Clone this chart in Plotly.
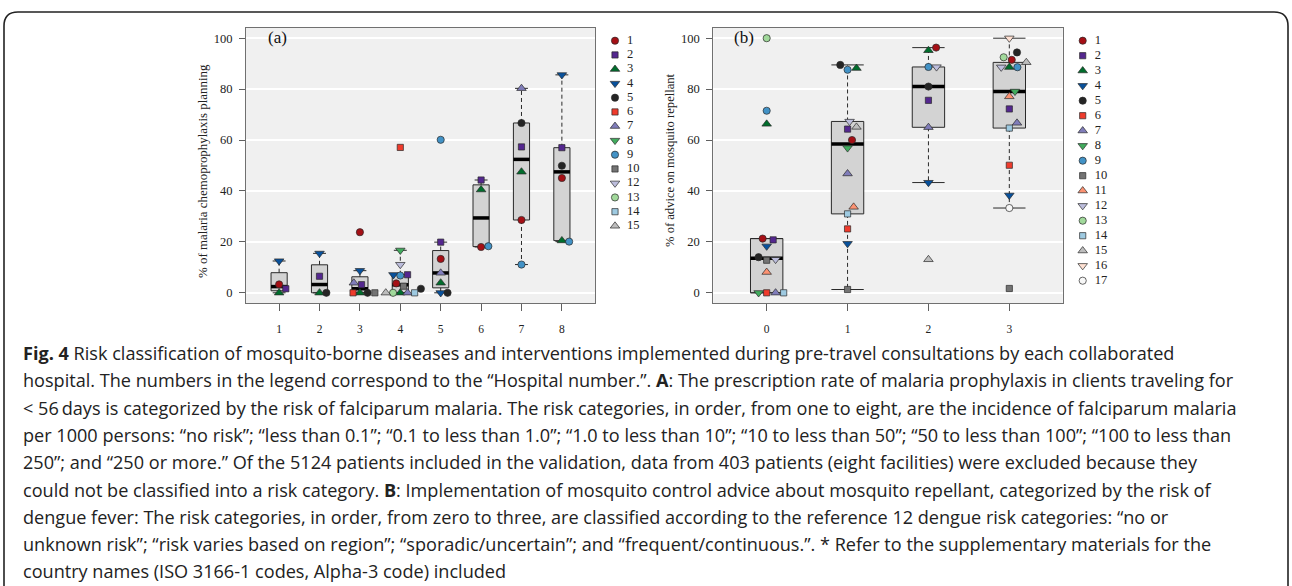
import plotly.graph_objects as go
import numpy as np

W, H = 1292, 586

# ---------------- data ----------------
hospital_ids = list(range(1, 18))
hospital_colors = ["#A50F15", "#54278F", "#006D2C", "#08519C", "#252525", "#EF3B2C",
                   "#807DBA", "#41AB5D", "#4292C6", "#737373", "#FC9272", "#BCBDDC",
                   "#A1D99B", "#9ECAE1", "#BDBDBD", "#FEE0D2", "#F7F7F7"]
hospital_symbols = ["circle", "square", "triangle-up", "triangle-down"] * 4 + ["circle"]

legend_a_hosp = [1, 2, 3, 4, 5, 6, 7, 8, 9, 10, 12, 13, 14, 15]
legend_b_hosp = list(range(1, 18))

# Panel (a): malaria risk categories 1..8
a_categories = [1, 2, 3, 4, 5, 6, 7, 8]
a1_hosp = [4, 1, 2, 3]
a1_vals = [12.5, 3.3, 1.6, 0.0]
a2_hosp = [4, 2, 3, 5]
a2_vals = [15.5, 6.5, 0.0, 0.0]
a3_hosp = [1, 4, 7, 2, 6, 3, 5, 10]
a3_vals = [23.8, 8.7, 3.9, 3.2, 0.0, 0.0, 0.0, 0.0]
a4_hosp = [6, 8, 12, 4, 9, 2, 1, 10, 15, 13, 3, 7, 14, 5]
a4_vals = [57.1, 16.7, 11.1, 7.1, 6.8, 7.1, 3.7, 2.6, 0.0, 0.0, 0.0, 0.0, 0.0, 1.6]
a5_hosp = [9, 2, 1, 7, 3, 4, 5]
a5_vals = [60.1, 19.9, 13.3, 7.8, 3.9, 0.0, 0.0]
a6_hosp = [2, 3, 1, 9]
a6_vals = [44.3, 40.5, 18.0, 18.3]
a7_hosp = [7, 5, 2, 3, 1, 9]
a7_vals = [80.3, 66.7, 57.3, 47.5, 28.6, 11.1]
a8_hosp = [4, 2, 5, 1, 3, 9]
a8_vals = [85.6, 57.0, 49.9, 45.1, 20.5, 20.1]

# Panel (b): dengue risk categories 0..3
b_categories = [0, 1, 2, 3]
b0_hosp = [13, 9, 3, 1, 2, 4, 5, 10, 12, 11, 8, 6, 7, 14]
b0_vals = [100.0, 71.5, 66.3, 21.3, 20.8, 18.3, 14.0, 12.8, 13.1, 8.1, 0.0, 0.0, 0.0, 0.0]
b1_hosp = [5, 3, 9, 12, 15, 2, 1, 8, 7, 11, 14, 6, 4, 10]
b1_vals = [89.5, 88.2, 87.6, 67.3, 65.1, 64.3, 60.0, 56.9, 46.8, 33.7, 31.0, 25.1, 19.3, 1.3]
b2_hosp = [3, 1, 9, 12, 5, 2, 7, 4, 15]
b2_vals = [95.2, 96.3, 88.7, 88.7, 81.0, 75.6, 65.0, 43.3, 13.1]
b3_hosp = [16, 5, 13, 1, 15, 12, 3, 9, 8, 11, 2, 7, 14, 6, 4, 17, 10]
b3_vals = [100.0, 94.4, 92.5, 91.5, 90.5, 88.6, 88.6, 88.6, 79.1, 77.1, 72.2, 66.7, 64.7, 50.1, 38.3, 33.3, 1.7]

# horizontal jitter (category units) of the overlaid points
a1_jit = [0, 0, 0.165, 0]
a2_jit = [0, 0, 0, 0.17]
a3_jit = [0, 0, -0.15, 0.04, -0.17, 0, 0.19, 0.37]
a4_jit = [0, 0, 0, -0.17, 0, 0.18, -0.10, 0.08, -0.36, -0.18, 0, 0.18, 0.355, 0.51]
a5_jit = [0, 0, 0, 0, 0, 0, 0.17]
a6_jit = [0, 0, 0, 0.18]
a7_jit = [0, 0, 0, 0, 0, 0]
a8_jit = [0, 0, 0, 0, 0, 0.18]
b0_jit = [0, 0, 0, -0.05, 0.08, 0, -0.10, 0, 0.11, 0, -0.10, 0, 0.11, 0.21]
b1_jit = [-0.09, 0.11, 0, 0.025, 0.11, 0, 0.055, 0, 0, 0.075, 0, 0, 0, 0]
b2_jit = [0, 0.095, 0, 0.10, 0, 0, 0, 0, 0]
b3_jit = [0, 0.095, -0.07, 0.03, 0.21, -0.10, 0, 0.10, 0.07, 0, 0, 0.095, 0, 0, 0, 0, 0]

y_ticks = [0, 20, 40, 60, 80, 100]

caption_lines = [
    "<b>Fig. 4</b> Risk classification of mosquito-borne diseases and interventions implemented during pre-travel consultations by each collaborated",
    "hospital. The numbers in the legend correspond to the \u201cHospital number.\u201d. <b>A</b>: The prescription rate of malaria prophylaxis in clients traveling for",
    "&lt; 56\u2009days is categorized by the risk of falciparum malaria. The risk categories, in order, from one to eight, are the incidence of falciparum malaria",
    "per 1000 persons: \u201cno risk\u201d; \u201cless than 0.1\u201d; \u201c0.1 to less than 1.0\u201d; \u201c1.0 to less than 10\u201d; \u201c10 to less than 50\u201d; \u201c50 to less than 100\u201d; \u201c100 to less than",
    "250\u201d; and \u201c250 or more.\u201d Of the 5124 patients included in the validation, data from 403 patients (eight facilities) were excluded because they",
    "could not be classified into a risk category. <b>B</b>: Implementation of mosquito control advice about mosquito repellant, categorized by the risk of",
    "dengue fever: The risk categories, in order, from zero to three, are classified according to the reference 12 dengue risk categories: \u201cno or",
    "unknown risk\u201d; \u201crisk varies based on region\u201d; \u201csporadic/uncertain\u201d; and \u201cfrequent/continuous.\u201d. * Refer to the supplementary materials for the",
    "country names (ISO 3166-1 codes, Alpha-3 code) included",
]

# ---------------- helpers ----------------
SERIF = "Liberation Serif, Times New Roman, serif"
OUTLINE = "#2a2a2a"


def fivenum(v):
    x = sorted(v)
    n = len(x)
    n4 = np.floor((n + 3) / 2) / 2
    d = [1, n4, (n + 1) / 2, n + 1 - n4, n]
    return [0.5 * (x[int(np.floor(di)) - 1] + x[int(np.ceil(di)) - 1]) for di in d]


def box_stats(v):
    _, lo, med, hi, _ = fivenum(v)
    iqr = hi - lo
    inside = [u for u in v if lo - 1.5 * iqr <= u <= hi + 1.5 * iqr]
    return lo, med, hi, min(inside), max(inside)


def px_x(p):
    return p / W


def px_y(p):
    return 1 - p / H


fig = go.Figure()


def add_box(xa, ya, c, vals, hw, sw):
    q1, med, q3, wlo, whi = box_stats(vals)
    fig.add_trace(go.Scatter(x=[c - hw, c + hw, c + hw, c - hw, c - hw], y=[q1, q1, q3, q3, q1],
                             mode="lines", fill="toself", fillcolor="#D3D3D3",
                             line=dict(color=OUTLINE, width=1), xaxis=xa, yaxis=ya,
                             hoverinfo="skip", showlegend=False))
    for a, b in ((q3, whi), (q1, wlo)):
        if b != a:
            fig.add_trace(go.Scatter(x=[c, c], y=[a, b], mode="lines",
                                     line=dict(color=OUTLINE, width=1, dash="4px,3px"),
                                     xaxis=xa, yaxis=ya, hoverinfo="skip", showlegend=False))
        fig.add_trace(go.Scatter(x=[c - sw, c + sw], y=[b, b], mode="lines",
                                 line=dict(color=OUTLINE, width=1),
                                 xaxis=xa, yaxis=ya, hoverinfo="skip", showlegend=False))
    fig.add_trace(go.Scatter(x=[c - hw, c + hw], y=[med, med], mode="lines",
                             line=dict(color="black", width=3.5),
                             xaxis=xa, yaxis=ya, hoverinfo="skip", showlegend=False))


def marker_size(sym):
    return {"circle": 7.2, "square": 6.2}.get(sym, 8.3)


def add_points(xa, ya, cats, hosps, vals, jits):
    for h in hospital_ids:
        xs, ys = [], []
        for c, hl, vl, jl in zip(cats, hosps, vals, jits):
            for hh, vv, jj in zip(hl, vl, jl):
                if hh == h:
                    xs.append(c + jj)
                    ys.append(vv)
        if not xs:
            continue
        sym = hospital_symbols[h - 1]
        fig.add_trace(go.Scatter(x=xs, y=ys, mode="markers", xaxis=xa, yaxis=ya,
                                 marker=dict(symbol=sym, size=marker_size(sym),
                                             color=hospital_colors[h - 1],
                                             line=dict(color=OUTLINE, width=0.7)),
                                 name=str(h), showlegend=False))


a_hosp = [a1_hosp, a2_hosp, a3_hosp, a4_hosp, a5_hosp, a6_hosp, a7_hosp, a8_hosp]
a_vals = [a1_vals, a2_vals, a3_vals, a4_vals, a5_vals, a6_vals, a7_vals, a8_vals]
a_jit = [a1_jit, a2_jit, a3_jit, a4_jit, a5_jit, a6_jit, a7_jit, a8_jit]
b_hosp = [b0_hosp, b1_hosp, b2_hosp, b3_hosp]
b_vals = [b0_vals, b1_vals, b2_vals, b3_vals]
b_jit = [b0_jit, b1_jit, b2_jit, b3_jit]

for c, v in zip(a_categories, a_vals):
    add_box("x", "y", c, v, 0.2, 0.16)
for c, v in zip(b_categories, b_vals):
    add_box("x2", "y2", c, v, 0.2, 0.2)
add_points("x", "y", a_categories, a_hosp, a_vals, a_jit)
add_points("x2", "y2", b_categories, b_hosp, b_vals, b_jit)


# legends drawn as marker columns on their own index axes
def add_legend(xa, ya, hosps):
    idx = list(range(len(hosps)))
    for i, h in zip(idx, hosps):
        sym = hospital_symbols[h - 1]
        fig.add_trace(go.Scatter(x=[0], y=[i], mode="markers", xaxis=xa, yaxis=ya,
                                 marker=dict(symbol=sym, size=marker_size(sym),
                                             color=hospital_colors[h - 1],
                                             line=dict(color=OUTLINE, width=0.7)),
                                 hoverinfo="skip", showlegend=False))
    fig.add_trace(go.Scatter(x=[12] * len(hosps), y=idx, mode="text", text=[str(h) for h in hosps],
                             textposition="middle right", xaxis=xa, yaxis=ya,
                             textfont=dict(family=SERIF, size=12.5, color="#222"),
                             hoverinfo="skip", showlegend=False))


add_legend("x3", "y3", legend_a_hosp)
add_legend("x4", "y4", legend_b_hosp)

# ---------------- layout ----------------
plot_top, plot_bot = 28, 303
a_left, a_right = 246, 595
b_left, b_right = 713.3, 1062.7

axis_common = dict(showline=True, mirror=True, linecolor="#707070", linewidth=1,
                   ticks="outside", tickcolor="#606060", showgrid=False, zeroline=False,
                   tickfont=dict(family=SERIF, size=11.5, color="#222"))
yaxis_common = dict(axis_common, range=[-4, 104], tickvals=y_ticks, ticklen=6,
                    showgrid=True, gridcolor="white", gridwidth=1.6,
                    ticklabelstandoff=4, tickfont=dict(family=SERIF, size=12.5, color="#222"))

leg_a_step = 14.25
leg_b_step = 15.0
leg_top = 40.7

fig.update_layout(
    width=W, height=H, margin=dict(l=0, r=0, t=0, b=0),
    paper_bgcolor="white", plot_bgcolor="rgba(0,0,0,0)",
    showlegend=False,
    xaxis=dict(axis_common, domain=[px_x(a_left), px_x(a_right)], range=[0.18, 8.82],
               tickvals=a_categories, ticklen=7, ticklabelstandoff=8, anchor="y"),
    yaxis=dict(yaxis_common, domain=[px_y(plot_bot), px_y(plot_top)], anchor="x"),
    xaxis2=dict(axis_common, domain=[px_x(b_left), px_x(b_right)], range=[-0.66, 3.66],
                tickvals=b_categories, ticklen=7, ticklabelstandoff=8, anchor="y2"),
    yaxis2=dict(yaxis_common, domain=[px_y(plot_bot), px_y(plot_top)], anchor="x2"),
    xaxis3=dict(domain=[px_x(605), px_x(665)], range=[-10, 50], visible=False, anchor="y3"),
    yaxis3=dict(domain=[px_y(leg_top + (len(legend_a_hosp) - 0.5) * leg_a_step), px_y(leg_top - 0.5 * leg_a_step)],
                range=[len(legend_a_hosp) - 0.5, -0.5], visible=False, anchor="x3"),
    xaxis4=dict(domain=[px_x(1072.7), px_x(1132.7)], range=[-10, 50], visible=False, anchor="y4"),
    yaxis4=dict(domain=[px_y(leg_top + (len(legend_b_hosp) - 0.5) * leg_b_step), px_y(leg_top - 0.5 * leg_b_step)],
                range=[len(legend_b_hosp) - 0.5, -0.5], visible=False, anchor="x4"),
)

# grey panel backgrounds (below the white grid lines)
for xa, ya in (("x", "y"), ("x2", "y2")):
    fig.add_shape(type="rect", xref=f"{xa} domain", yref=f"{ya} domain", x0=0, x1=1, y0=0, y1=1,
                  fillcolor="#F0F0F0", line=dict(width=0), layer="below")

annotations = [
    dict(x=px_x(277), y=px_y(38), text="(a)", showarrow=False, xref="paper", yref="paper",
         xanchor="center", yanchor="middle", font=dict(family=SERIF, size=17, color="#111")),
    dict(x=px_x(744), y=px_y(38), text="(b)", showarrow=False, xref="paper", yref="paper",
         xanchor="center", yanchor="middle", font=dict(family=SERIF, size=17, color="#111")),
    dict(x=px_x(203), y=px_y(171), text="% of malaria chemoprophylaxis planning", textangle=-90,
         xanchor="center", yanchor="middle",
         showarrow=False, xref="paper", yref="paper", font=dict(family=SERIF, size=12.9, color="#222")),
    dict(x=px_x(670), y=px_y(160), text="% of advice on mosquito repellant", textangle=-90,
         xanchor="center", yanchor="middle",
         showarrow=False, xref="paper", yref="paper", font=dict(family=SERIF, size=12.6, color="#222")),
]
cap_top, cap_step = 353, 27.3
for i, line in enumerate(caption_lines):
    annotations.append(dict(x=px_x(21), y=px_y(cap_top + i * cap_step), text=line, showarrow=False,
                            xref="paper", yref="paper", xanchor="left", yanchor="middle", align="left",
                            font=dict(family="Open Sans, Lato, sans-serif", size=18.1, color="#222")))
fig.update_layout(annotations=annotations)

# rounded frame around the figure panel
fig.add_shape(type="path", xref="paper", yref="paper",
              path=(f"M {px_x(4)},{px_y(620)} L {px_x(4)},{px_y(26)} "
                    f"Q {px_x(4)},{px_y(12)} {px_x(18)},{px_y(12)} "
                    f"L {px_x(1274)},{px_y(12)} Q {px_x(1288)},{px_y(12)} {px_x(1288)},{px_y(26)} "
                    f"L {px_x(1288)},{px_y(620)}"),
              line=dict(color="#222", width=1.6))

fig.write_html("out.html", config={"displayModeBar": False},
               post_script="document.body.style.margin='0';document.body.style.overflow='hidden';")
